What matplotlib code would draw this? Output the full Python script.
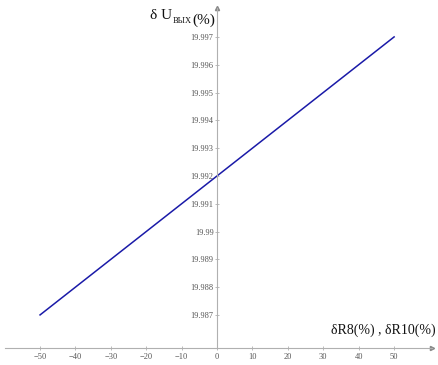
import matplotlib
matplotlib.use('Agg')
import matplotlib.pyplot as plt

# data
dR = [-50, 50]
dU = [19.987, 19.997]
xticks = [-50, -40, -30, -20, -10, 0, 10, 20, 30, 40, 50]
yticks = [19.987, 19.988, 19.989, 19.99, 19.991, 19.992, 19.993, 19.994, 19.995, 19.996, 19.997]
ytick_labels = ['19.987', '19.988', '19.989', '19.99', '19.991', '19.992',
                '19.993', '19.994', '19.995', '19.996', '19.997']

plt.rcParams['font.family'] = ['Liberation Serif', 'DejaVu Serif']

W, H = 438, 365
fig = plt.figure(figsize=(W / 100, H / 100), dpi=100)
ax = fig.add_axes([5 / W, 17 / H, 427 / W, 340 / H])

xmin, xmax = -59.9, 60.7
ymin, ymax = 19.98581, 19.99804
ax.set_xlim(xmin, xmax)
ax.set_ylim(ymin, ymax)

ax.plot(dR, dU, color='#1a1aa8', lw=1.1)

axis_col = '#b0b0b0'
for s in ['top', 'right']:
    ax.spines[s].set_visible(False)
ax.spines['left'].set_position(('data', 0))
ax.spines['bottom'].set_position(('data', ymin))
ax.spines['left'].set_color(axis_col)
ax.spines['bottom'].set_color(axis_col)
ax.spines['left'].set_linewidth(0.8)
ax.spines['bottom'].set_linewidth(0.8)

# arrow heads
ax.plot(xmax, ymin, marker='>', color='#888888', markersize=3, clip_on=False)
ax.plot(0, ymax, marker='^', color='#888888', markersize=3, clip_on=False)

ax.set_xticks(xticks)
ax.set_xticklabels(['\u2212' + str(-t) if t < 0 else str(t) for t in xticks])
ax.set_yticks(yticks)
ax.set_yticklabels(ytick_labels)
ax.tick_params(axis='both', colors=axis_col, labelcolor='#555555', labelsize=6,
               length=3, width=0.6, direction='inout')
ax.tick_params(axis='x', pad=2)
ax.tick_params(axis='y', pad=1)

t1 = fig.text(150 / W, 1 - 19 / H, 'δ U', fontsize=11, color='#111111', va='baseline')
t2 = ax.annotate('ВЫХ', xy=(1, 0), xycoords=t1, xytext=(0.5, -0.5),
                 textcoords='offset points', fontsize=6, color='#111111', va='baseline')
ax.annotate('(%)', xy=(1, 0), xycoords=t2, xytext=(0.5, 0.5),
            textcoords='offset points', fontsize=11, color='#111111', va='baseline')

fig.text(436 / W, 1 - 334 / H, 'δR8(%) , δR10(%)', fontsize=10, color='#111111',
         va='baseline', ha='right')

fig.savefig('out.png', dpi=100)
